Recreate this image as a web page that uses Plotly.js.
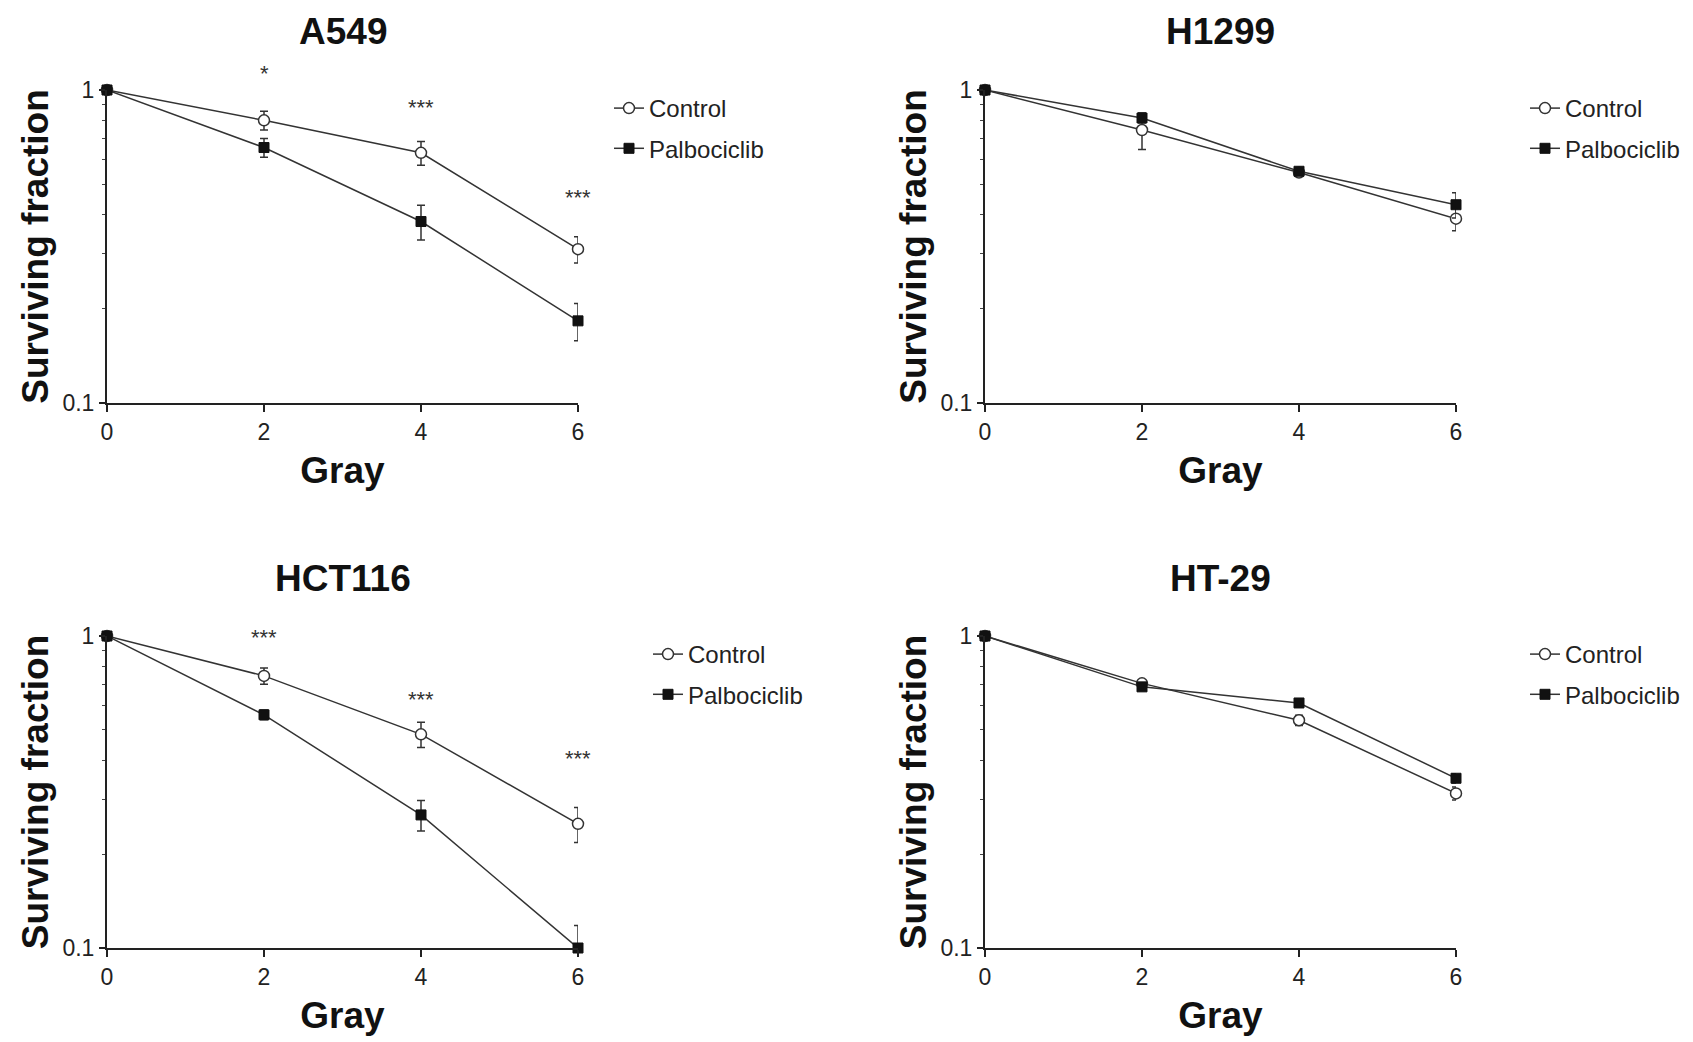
<!DOCTYPE html>
<html>
<head>
<meta charset="utf-8">
<script src="https://cdn.plot.ly/plotly-3.0.1.min.js"></script>
<style>html,body{margin:0;padding:0;background:#fff;}#chart{width:1693px;height:1042px;}</style>
</head>
<body>
<div id="chart"></div>
<script>
// ---- data ----
const doses = [0, 2, 4, 6];
const panelTitles = ["A549", "H1299", "HCT116", "HT-29"];
const seriesNames = ["Control", "Palbociclib"];

const a549Control = [1, 0.80, 0.63, 0.31];
const a549ControlErr = [0, 0.055, 0.055, 0.03];
const a549Palbo = [1, 0.655, 0.38, 0.183];
const a549PalboErr = [0, 0.045, 0.048, 0.025];

const h1299Control = [1, 0.745, 0.545, 0.388];
const h1299ControlErr = [0, 0.1, 0.01, 0.033];
const h1299Palbo = [1, 0.814, 0.55, 0.43];
const h1299PalboErr = [0, 0.03, 0.01, 0.04];

const hct116Control = [1, 0.745, 0.484, 0.25];
const hct116ControlErr = [0, 0.045, 0.045, 0.032];
const hct116Palbo = [1, 0.559, 0.267, 0.1];
const hct116PalboErrPlus = [0, 0.02, 0.03, 0.018];
const hct116PalboErrMinus = [0, 0.02, 0.03, 0];

const ht29Control = [1, 0.705, 0.537, 0.313];
const ht29ControlErr = [0, 0.015, 0.02, 0.015];
const ht29Palbo = [1, 0.687, 0.61, 0.35];
const ht29PalboErr = [0, 0.015, 0.015, 0.012];

// significance marks
const a549StarX = [2, 4, 6];
const a549StarY = [1.13, 0.88, 0.452];
const a549StarText = ["*", "***", "***"];
const hct116StarX = [2, 4, 6];
const hct116StarY = [0.99, 0.625, 0.406];
const hct116StarText = ["***", "***", "***"];

// ---- styling ----
const W = 1693, H = 1042;
const ink = "#333333";
const fontFam = "Liberation Sans, Arial, sans-serif";
const yRange = [-1, 0];

function ctrlTrace(y, errP, errM, ax, leg) {
  return {
    x: doses, y: y, name: seriesNames[0], mode: "lines+markers",
    xaxis: "x" + ax, yaxis: "y" + ax, legend: leg, legendgroup: leg + "c",
    line: {color: ink, width: 1.5},
    marker: {symbol: "circle", size: 11, color: "white", line: {color: ink, width: 1.5}},
    error_y: {type: "data", array: errP, arrayminus: errM, symmetric: false, color: ink, thickness: 1.5, width: 4},
    cliponaxis: false
  };
}
function palTrace(y, errP, errM, ax, leg) {
  return {
    x: doses, y: y, name: seriesNames[1], mode: "lines+markers",
    xaxis: "x" + ax, yaxis: "y" + ax, legend: leg, legendgroup: leg + "p",
    line: {color: ink, width: 1.5},
    marker: {symbol: "square", size: 10, color: "#111", line: {color: "#111", width: 1}},
    error_y: {type: "data", array: errP, arrayminus: errM, symmetric: false, color: ink, thickness: 1.5, width: 4},
    cliponaxis: false
  };
}

const traces = [
  ctrlTrace(a549Control, a549ControlErr, a549ControlErr, "", "legend"),
  palTrace(a549Palbo, a549PalboErr, a549PalboErr, "", "legend"),
  ctrlTrace(h1299Control, h1299ControlErr, h1299ControlErr, "2", "legend2"),
  palTrace(h1299Palbo, h1299PalboErr, h1299PalboErr, "2", "legend2"),
  ctrlTrace(hct116Control, hct116ControlErr, hct116ControlErr, "3", "legend3"),
  palTrace(hct116Palbo, hct116PalboErrPlus, hct116PalboErrMinus, "3", "legend3"),
  ctrlTrace(ht29Control, ht29ControlErr, ht29ControlErr, "4", "legend4"),
  palTrace(ht29Palbo, ht29PalboErr, ht29PalboErr, "4", "legend4")
];

// panel geometry in pixels: [left, right, topValue1, bottomValue01]
const panels = [
  [107, 578, 90, 403],
  [985, 1456, 90, 403],
  [107, 578, 636, 948],
  [985, 1456, 636, 948]
];
const titleY = [32, 32, 578, 578];
const legendPos = [[609, 86], [1525, 86], [648, 632], [1525, 632]];

const layout = {
  width: W, height: H,
  margin: {l: 0, r: 0, t: 0, b: 0},
  paper_bgcolor: "white", plot_bgcolor: "white",
  font: {family: fontFam, color: "#222"},
  showlegend: true,
  annotations: []
};

const minorVals = [0.2, 0.3, 0.4, 0.5, 0.6, 0.7, 0.8, 0.9];
panels.forEach((p, i) => {
  const s = i === 0 ? "" : String(i + 1);
  layout["xaxis" + s] = {
    domain: [p[0] / W, p[1] / W], anchor: "y" + s,
    range: [0, 6], tickvals: doses, ticktext: doses.map(String),
    showline: true, linecolor: "#222", linewidth: 2,
    ticks: "outside", ticklen: 7, tickwidth: 2, tickcolor: "#222",
    showgrid: false, zeroline: false, fixedrange: true,
    tickfont: {size: 23, family: fontFam, color: "#222"},
    title: {text: "Gray", font: {size: 37, family: fontFam, weight: "bold", color: "#111"}, standoff: 14}
  };
  layout["yaxis" + s] = {
    domain: [1 - p[3] / H, 1 - p[2] / H], anchor: "x" + s,
    type: "log", range: yRange,
    tickvals: [0.1, 1], ticktext: ["0.1", "1"],
    showline: true, linecolor: "#222", linewidth: 2,
    ticks: "outside", ticklen: 6, tickwidth: 2, tickcolor: "#222",
    minor: {tickmode: "array", tickvals: minorVals, ticks: "outside", ticklen: 3, tickwidth: 1, tickcolor: "#444", showgrid: false},
    showgrid: false, zeroline: false, fixedrange: true,
    tickfont: {size: 23, family: fontFam, color: "#222"},
    title: {text: "Surviving fraction", font: {size: 37, family: fontFam, weight: "bold", color: "#111"}, standoff: 2}
  };
  layout.annotations.push({
    text: panelTitles[i], xref: "paper", yref: "paper",
    x: (p[0] + p[1]) / 2 / W, y: 1 - titleY[i] / H,
    xanchor: "center", yanchor: "middle", showarrow: false,
    font: {size: 37, family: fontFam, weight: "bold", color: "#111"}
  });
  const legName = i === 0 ? "legend" : "legend" + (i + 1);
  layout[legName] = {
    x: legendPos[i][0] / W, y: 1 - legendPos[i][1] / H,
    xanchor: "left", yanchor: "top",
    bgcolor: "rgba(0,0,0,0)", borderwidth: 0,
    font: {size: 24, family: fontFam, color: "#222"},
    tracegroupgap: 6, itemwidth: 30
  };
});

// stars placed in the y-axis domain frame (log scale mapped onto the axis range)
function addStars(xs, ys, txt, s) {
  xs.forEach((xv, k) => {
    layout.annotations.push({
      text: txt[k], xref: "x" + s, yref: "y" + s + " domain",
      x: xv, y: (Math.log10(ys[k]) - yRange[0]) / (yRange[1] - yRange[0]),
      xanchor: "center", yanchor: "middle", showarrow: false,
      font: {size: 22, family: fontFam, color: "#333"}
    });
  });
}
addStars(a549StarX, a549StarY, a549StarText, "");
addStars(hct116StarX, hct116StarY, hct116StarText, "3");

Plotly.newPlot("chart", traces, layout, {displayModeBar: false, staticPlot: true});
</script>
</body>
</html>
